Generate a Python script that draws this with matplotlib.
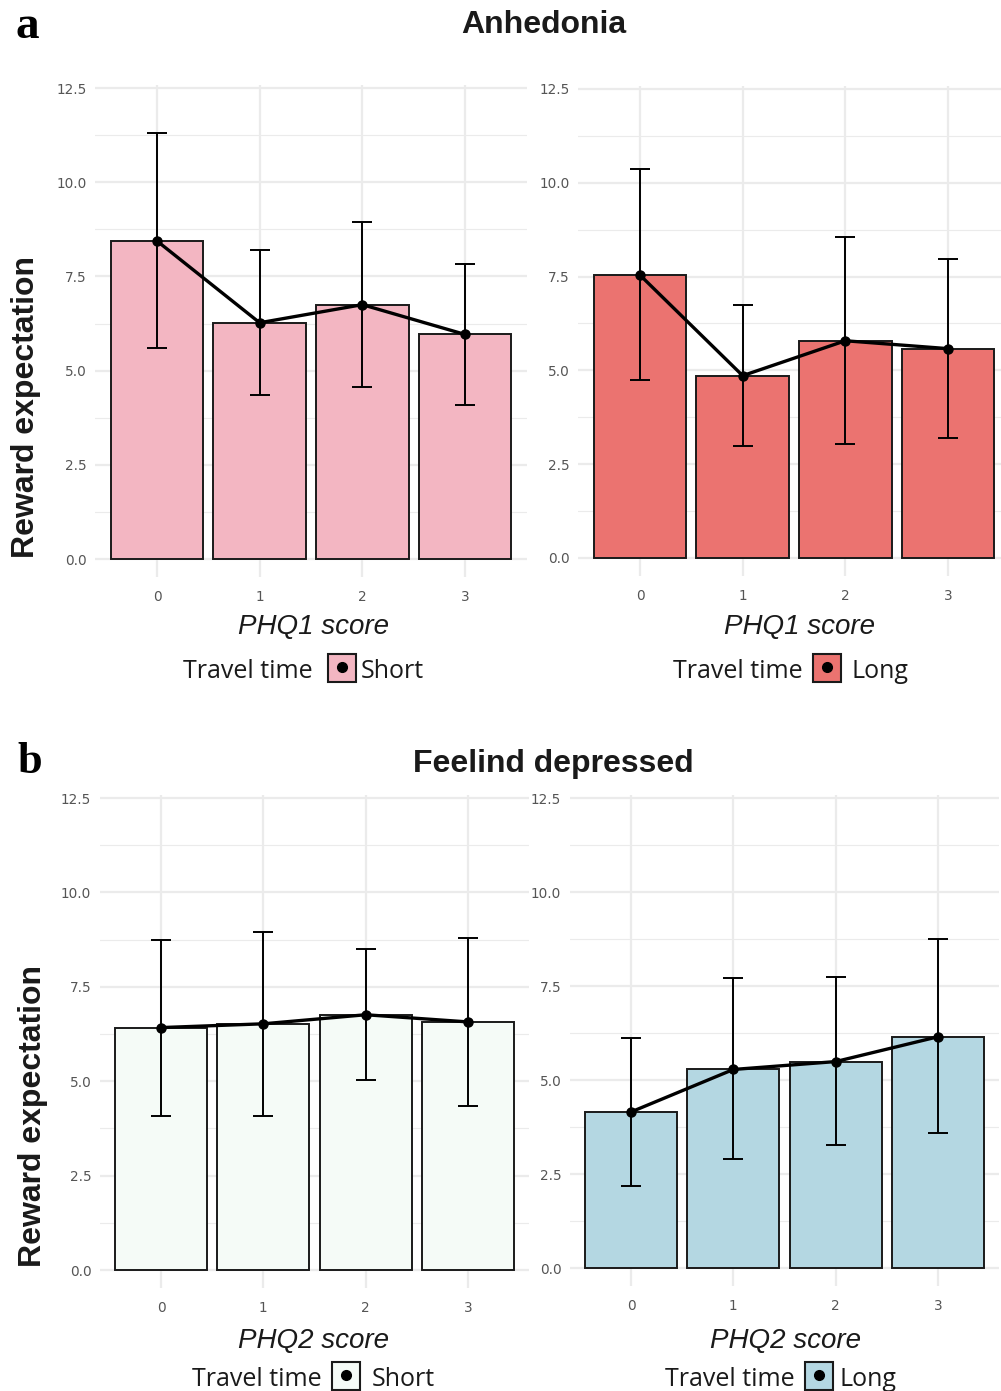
import numpy as np
import matplotlib.pyplot as plt
from matplotlib.patches import Rectangle

W, H = 1001, 1391
fig = plt.figure(figsize=(W / 100, H / 100), dpi=100)

scores = [0, 1, 2, 3]
tick_labels = ["0", "1", "2", "3"]
y_ticks = [0.0, 2.5, 5.0, 7.5, 10.0, 12.5]

# Anhedonia (PHQ1): mean reward expectation with error bar limits
anh_short = [8.44, 6.27, 6.75, 5.96]
anh_short_lo = [5.61, 4.34, 4.56, 4.08]
anh_short_hi = [11.30, 8.20, 8.94, 7.84]
anh_long = [7.54, 4.86, 5.79, 5.58]
anh_long_lo = [4.74, 2.99, 3.04, 3.21]
anh_long_hi = [10.36, 6.74, 8.56, 7.96]

# Feeling depressed (PHQ2)
dep_short = [6.42, 6.52, 6.76, 6.57]
dep_short_lo = [4.09, 4.09, 5.03, 4.34]
dep_short_hi = [8.75, 8.96, 8.50, 8.80]
dep_long = [4.15, 5.28, 5.49, 6.15]
dep_long_lo = [2.19, 2.89, 3.26, 3.58]
dep_long_hi = [6.11, 7.70, 7.74, 8.75]

PINK = "#F3B6C2"
RED = "#EB7370"
MINT = "#F5FBF7"
BLUE = "#B4D7E2"

SANS = "Liberation Sans"
LEG = "Open Sans"


def add_panel(x0, x3, y0, y125):
    # place an axes so that x=0/3 and y=0/12.5 land on the given pixels
    u = (x3 - x0) / 3
    v = (y0 - y125) / 12.5
    left, right = x0 - 0.6 * u, x0 + 3.6 * u
    top, bottom = y0 - 12.58 * v, y0 + 0.48 * v
    ax = fig.add_axes([left / W, 1 - bottom / H, (right - left) / W, (bottom - top) / H])
    ax.set_xlim(-0.6, 3.6)
    ax.set_ylim(-0.48, 12.58)
    return ax


def draw(ax, means, lo, hi, fill):
    means = np.array(means)
    ax.set_axisbelow(True)
    ax.set_yticks(y_ticks)
    ax.set_yticks(np.arange(1.25, 12.5, 2.5), minor=True)
    ax.set_xticks(scores)
    ax.set_xticklabels(tick_labels)
    ax.grid(which="major", color="#ebebeb", lw=1.6)
    ax.grid(which="minor", axis="y", color="#ebebeb", lw=0.8)
    for s in ax.spines.values():
        s.set_visible(False)
    ax.tick_params(which="both", length=0)
    ax.tick_params(axis="y", pad=6)
    ax.tick_params(axis="x", pad=9)
    for t in ax.get_xticklabels() + ax.get_yticklabels():
        t.set_fontfamily("DejaVu Sans")
        t.set_fontsize(9.8)
        t.set_color("#555555")

    ax.bar(scores, means, width=0.9, color=fill, edgecolor="#1a1a1a", linewidth=1.4, zorder=2)
    ax.errorbar(scores, means, yerr=[means - np.array(lo), np.array(hi) - means],
                fmt="none", ecolor="black", elinewidth=1.4, capsize=7.3, capthick=1.4, zorder=3)
    ax.plot(scores, means, color="black", lw=2.4, marker="o", ms=6.5, zorder=4)


def legend_row(px_text, px_box, px_label, py, fill, label):
    fig.text(px_text / W, 1 - (py + 3) / H, "Travel time", family=LEG, fontsize=18,
             color="#1a1a1a", ha="left", va="center")
    fig.patches.append(Rectangle((px_box / W, 1 - (py + 14) / H), 28 / W, 28 / H,
                                 transform=fig.transFigure, facecolor=fill,
                                 edgecolor="#1a1a1a", lw=1.5))
    fig.lines.append(plt.Line2D([(px_box + 14) / W], [1 - (py - 1) / H], transform=fig.transFigure,
                                marker="o", ms=7, color="black"))
    fig.text(px_label / W, 1 - (py + 3) / H, label, family=LEG, fontsize=18,
             color="#1a1a1a", ha="left", va="center")


# panel a
ax1 = add_panel(157, 465, 559, 88)
draw(ax1, anh_short, anh_short_lo, anh_short_hi, PINK)
ax2 = add_panel(640, 948, 558, 89)
draw(ax2, anh_long, anh_long_lo, anh_long_hi, RED)

# panel b
ax3 = add_panel(161, 468, 1270, 798)
draw(ax3, dep_short, dep_short_lo, dep_short_hi, MINT)
ax4 = add_panel(631, 938, 1268, 798)
draw(ax4, dep_long, dep_long_lo, dep_long_hi, BLUE)

# titles and panel letters
fig.text(27 / W, 1 - 27 / H, "a", family="Liberation Serif", weight="bold", fontsize=34,
         ha="center", va="center")
fig.text(30 / W, 1 - 762 / H, "b", family="Liberation Serif", weight="bold", fontsize=32,
         ha="center", va="center")
fig.text(544 / W, 1 - 25 / H, "Anhedonia", family=SANS, weight="bold", fontsize=23,
         color="#1a1a1a", ha="center", va="center")
fig.text(553 / W, 1 - 764 / H, "Feelind depressed", family=SANS, weight="bold", fontsize=23,
         color="#1a1a1a", ha="center", va="center")

# y axis titles
fig.text(26 / W, 1 - 407 / H, "Reward expectation", family=SANS, weight="bold", fontsize=23,
         rotation=90, ha="center", va="center", color="#1a1a1a")
fig.text(33 / W, 1 - 1116 / H, "Reward expectation", family=SANS, weight="bold", fontsize=23,
         rotation=90, ha="center", va="center", color="#1a1a1a")

# x axis titles
for px, py, txt in [(313, 627, "PHQ1 score"), (800, 627, "PHQ1 score"),
                    (313, 1341, "PHQ2 score"), (785, 1341, "PHQ2 score")]:
    fig.text(px / W, 1 - py / H, txt, family=SANS, style="italic", fontsize=20,
             color="#1a1a1a", ha="center", va="center")

# legends
legend_row(183, 328, 361, 668, PINK, "Short")
legend_row(673, 813, 852, 668, RED, "Long")
legend_row(192, 332, 372, 1376, MINT, "Short")
legend_row(665, 805, 839, 1376, BLUE, "Long")

fig.savefig("out.png", dpi=100, facecolor="white")
